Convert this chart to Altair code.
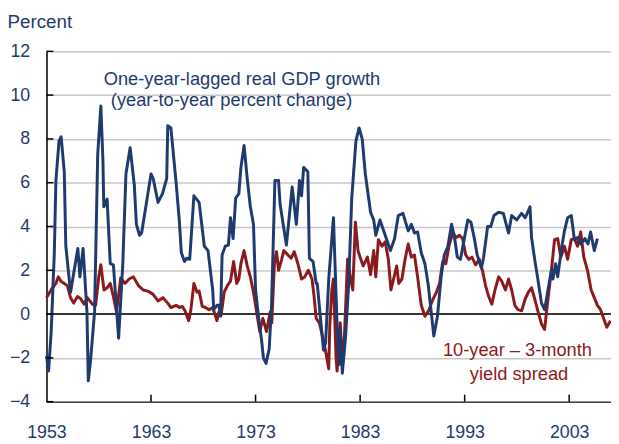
import altair as alt
import pandas as pd

# One-year-lagged real GDP growth (year-to-year percent change)
gdp_year = [1953.0, 1953.2, 1953.45, 1953.75, 1953.9, 1954.2, 1954.4, 1954.7, 1954.85, 1955.3,
            1956.0, 1956.2, 1956.5, 1956.87, 1957.0, 1957.2, 1957.6, 1957.9, 1958.2, 1958.4,
            1958.48, 1958.8, 1959.1, 1959.4, 1959.9, 1960.3, 1960.6, 1961.0, 1961.4, 1961.6,
            1961.9, 1962.1, 1962.6, 1963.0, 1963.2, 1963.67, 1964.1, 1964.5, 1964.6, 1964.9,
            1965.4, 1965.7, 1965.9, 1966.2, 1966.4, 1966.7, 1967.1, 1967.6, 1968.1, 1968.45,
            1968.9, 1969.0, 1969.3, 1969.5, 1969.65, 1969.8, 1970.1, 1970.4, 1970.6, 1970.85,
            1971.1, 1971.4, 1971.6, 1971.9, 1972.2, 1972.5, 1972.8, 1973.0, 1973.3, 1973.6,
            1973.75, 1974.0, 1974.3, 1974.53, 1974.85, 1975.2, 1975.35, 1975.95, 1976.5, 1976.9,
            1977.2, 1977.4, 1977.6, 1978.0, 1978.15, 1978.5, 1978.8, 1978.9, 1979.25, 1979.5,
            1979.7, 1980.0, 1980.45, 1980.8, 1981.0, 1981.1, 1981.3, 1981.6, 1981.9, 1982.2,
            1982.6, 1982.9, 1983.2, 1983.5, 1984.0, 1984.3, 1984.5, 1984.9, 1985.4, 1985.9,
            1986.3, 1986.65, 1987.1, 1987.6, 1987.9, 1988.2, 1988.5, 1988.85, 1989.2, 1989.5,
            1989.8, 1990.05, 1990.4, 1990.75, 1991.05, 1991.4, 1991.75, 1992.0, 1992.3, 1992.6,
            1992.95, 1993.3, 1993.6, 1993.95, 1994.2, 1994.6, 1994.8, 1995.2, 1995.5, 1995.8,
            1996.25, 1996.7, 1997.2, 1997.5, 1997.98, 1998.45, 1998.8, 1999.25, 1999.4, 1999.7,
            2000.0, 2000.35, 2000.65, 2000.97, 2001.3, 2001.45, 2001.7, 2001.9, 2002.3, 2002.55,
            2002.85, 2003.2, 2003.5, 2003.8, 2004.1, 2004.5, 2004.8, 2005.05, 2005.4, 2005.7]
gdp_value = [-1.9, -2.6, -0.8, 2.8, 6.1, 7.9, 8.1, 6.5, 3.1, 1.0,
             3.0, 1.7, 3.0, 0.1, -3.05, -2.2, 0.1, 7.3, 9.5, 7.0,
             4.9, 5.25, 2.3, 2.25, -1.1, 2.3, 6.4, 7.6, 5.9, 4.1,
             3.6, 3.7, 5.2, 6.4, 6.2, 5.1, 5.5, 6.2, 8.6, 8.5,
             6.0, 4.3, 2.8, 2.4, 2.55, 2.5, 5.4, 5.1, 3.1, 2.9,
             1.1, 0.2, 0.4, 0.4, -0.1, 2.7, 3.1, 3.15, 4.4, 3.45,
             5.3, 5.5, 6.7, 7.7, 6.2, 4.9, 4.1, 1.1, -0.2, -1.3,
             -2.0, -2.25, -1.6, 0.4, 6.1, 6.1, 5.0, 3.15, 5.8, 4.1,
             6.1, 5.4, 6.7, 6.5, 2.55, 2.4, 1.4, 1.4, -0.4, -1.65,
             -1.3, 1.6, 4.4, -0.5, -2.3, -0.7, -2.7, -1.1, 1.3, 5.3,
             7.9, 8.5, 8.0, 6.4, 4.65, 4.3, 3.6, 4.3, 3.6, 2.9,
             3.45, 4.5, 4.6, 3.8, 4.1, 3.7, 3.75, 2.8, 2.3, 1.4,
             0.1, -1.0, -0.1, 1.7, 2.7, 3.1, 4.1, 3.6, 2.6, 2.5,
             3.4, 4.3, 4.2, 3.4, 2.7, 2.1, 2.55, 4.0, 4.0, 4.5,
             4.65, 4.6, 3.7, 4.5, 4.3, 4.6, 4.4, 4.9, 3.5, 2.5,
             1.6, 0.5, 0.2, 1.1, 2.0, 1.6, 2.3, 1.7, 3.1, 3.8,
             4.4, 4.5, 3.4, 3.5, 3.2, 3.45, 3.2, 3.75, 2.9, 3.45]

# 10-year minus 3-month yield spread
spread_year = [1953.0, 1953.44, 1953.9, 1954.13, 1954.38, 1954.7, 1955.0, 1955.3, 1955.6, 1955.96,
               1956.27, 1956.6, 1956.9, 1957.4, 1957.7, 1958.0, 1958.2, 1958.5, 1958.8, 1959.1,
               1959.4, 1959.7, 1960.1, 1960.5, 1960.9, 1961.3, 1961.8, 1962.25, 1962.7, 1963.2,
               1963.67, 1964.14, 1964.6, 1964.9, 1965.4, 1965.7, 1966.0, 1966.25, 1966.6, 1966.8,
               1967.1, 1967.4, 1967.6, 1967.9, 1968.2, 1968.55, 1968.9, 1969.3, 1969.5, 1969.7,
               1970.0, 1970.3, 1970.6, 1970.9, 1971.2, 1971.4, 1971.6, 1971.9, 1972.2, 1972.5,
               1972.8, 1973.1, 1973.4, 1973.7, 1974.05, 1974.4, 1974.55, 1974.8, 1975.0, 1975.2,
               1975.5, 1975.7, 1976.1, 1976.4, 1976.7, 1977.05, 1977.4, 1977.7, 1978.05, 1978.4,
               1978.6, 1978.8, 1979.1, 1979.4, 1979.7, 1980.0, 1980.1, 1980.3, 1980.45, 1980.7,
               1980.8, 1981.1, 1981.3, 1981.5, 1981.8, 1982.1, 1982.3, 1982.55, 1982.8, 1983.0,
               1983.3, 1983.7, 1984.0, 1984.3, 1984.5, 1984.75, 1985.1, 1985.4, 1985.7, 1985.95,
               1986.2, 1986.5, 1986.7, 1987.0, 1987.3, 1987.6, 1987.9, 1988.2, 1988.5, 1988.85,
               1989.2, 1989.55, 1989.9, 1990.3, 1990.6, 1990.9, 1991.2, 1991.5, 1991.85, 1992.2,
               1992.5, 1992.8, 1993.1, 1993.4, 1993.7, 1994.05, 1994.4, 1994.7, 1995.0, 1995.3,
               1995.6, 1995.9, 1996.25, 1996.55, 1996.9, 1997.2, 1997.5, 1997.8, 1998.1, 1998.45,
               1998.8, 1999.1, 1999.4, 1999.7, 2000.0, 2000.35, 2000.65, 2000.97, 2001.3, 2001.6,
               2001.9, 2002.2, 2002.55, 2002.85, 2003.2, 2003.5, 2003.8, 2004.1, 2004.4, 2004.75,
               2005.1, 2005.4, 2005.7, 2006.0, 2006.3, 2006.6, 2006.95]
spread_value = [0.75, 1.1, 1.4, 1.7, 1.5, 1.4, 1.3, 0.75, 0.5, 0.8,
                0.7, 0.45, 0.75, 0.45, 0.4, 1.7, 2.25, 1.1, 1.2, 1.4,
                0.8, 0.1, 1.65, 1.4, 1.6, 1.7, 1.3, 1.1, 1.05, 0.9,
                0.6, 0.75, 0.5, 0.3, 0.4, 0.3, 0.35, 0.15, -0.3, 0.15,
                1.4, 1.0, 1.05, 0.35, 0.3, 0.2, 0.3, -0.3, 0.1, -0.05,
                1.0, 1.3, 1.5, 2.4, 1.4, 1.6, 2.3, 2.9, 2.2, 1.7,
                1.0, 0.1, -0.8, -0.2, -0.8, 0.1, -0.4, 2.3, 2.85, 2.0,
                2.5, 2.9, 2.7, 2.55, 2.85, 2.3, 1.6, 1.7, 2.0, 1.6,
                0.8, -0.2, -0.4, -1.0, -1.7, -2.5, -0.5, 1.1, 1.6, -2.0,
                -2.6, -0.4, -2.3, -1.0, 2.5, 1.6, 1.1, 4.2, 2.9, 2.6,
                2.2, 2.6, 1.8, 2.9, 1.7, 3.4, 3.1, 3.3, 2.5, 1.1,
                1.6, 2.2, 1.4, 1.6, 2.5, 3.2, 2.6, 2.7, 1.7, 0.4,
                -0.1, 0.15, 0.6, 1.0, 1.4, 2.4, 2.3, 3.1, 3.7, 3.5,
                3.6, 3.45, 2.7, 2.5, 2.6, 2.25, 2.5, 2.0, 1.3, 0.8,
                0.45, 1.1, 1.7, 1.5, 1.1, 1.6, 1.1, 0.4, 0.2, 0.15,
                0.7, 1.0, 1.2, 0.7, 0.15, -0.45, -0.7, 0.7, 2.0, 3.4,
                3.45, 2.6, 3.1, 2.5, 3.4, 3.45, 3.1, 3.75, 2.6, 2.0,
                1.1, 0.75, 0.4, 0.2, -0.2, -0.6, -0.3]

x_ticks = [1953, 1963, 1973, 1983, 1993, 2003]
y_ticks = [-4, -2, 0, 2, 4, 6, 8, 10, 12]
inner_x_ticks = [1963, 1973, 1983, 1993, 2003]

BLUE = "#1e3a6e"
RED = "#8c1a1c"
FONT = "Liberation Sans"

df = pd.concat([
    pd.DataFrame({"year": spread_year, "value": spread_value, "series": "spread"}),
    pd.DataFrame({"year": gdp_year, "value": gdp_value, "series": "gdp"}),
], ignore_index=True)

xscale = alt.Scale(domain=[1953, 2007], nice=False, zero=False)
yscale = alt.Scale(domain=[-4, 12], nice=False, zero=False)
cscale = alt.Scale(domain=["spread", "gdp"], range=[RED, BLUE])

lines = alt.Chart(df).mark_line(strokeWidth=3, strokeJoin="round").encode(
    x=alt.X("year:Q", scale=xscale,
            axis=alt.Axis(values=x_ticks, format="d", grid=False, tickSize=0,
                          labelPadding=22, labelFontSize=18, labelColor=BLUE,
                          labelFont=FONT, domainColor="#444444", domainWidth=1.5,
                          title=None, labelFlush=False)),
    y=alt.Y("value:Q", scale=yscale,
            axis=alt.Axis(values=y_ticks, grid=True, gridColor="#c8c8c8", gridWidth=1.5,
                          tickSize=0, labelPadding=17, labelFontSize=18,
                          labelColor=BLUE, labelFont=FONT, domainColor="#000000",
                          domainWidth=1.5, title="Percent", titleAngle=0,
                          titleAlign="left", titleBaseline="alphabetic",
                          titleX=-40, titleY=-24, titleFontSize=19,
                          titleFontWeight="normal", titleColor=BLUE, titleFont=FONT)),
    color=alt.Color("series:N", scale=cscale, legend=None),
    order=alt.Order("year:Q"),
    detail="series:N",
)

zero_line = alt.Chart(pd.DataFrame({"z": [0]})).mark_rule(color="#000000", strokeWidth=1.5).encode(
    y=alt.Y("z:Q", scale=yscale)
)

ytick_df = pd.DataFrame({"v": y_ticks, "x0": [1953] * len(y_ticks), "x1": [1953.66] * len(y_ticks)})
y_inner = alt.Chart(ytick_df).mark_rule(color="#000000", strokeWidth=1.5).encode(
    x=alt.X("x0:Q", scale=xscale), x2="x1:Q", y=alt.Y("v:Q", scale=yscale)
)

xtick_df = pd.DataFrame({"t": inner_x_ticks, "y0": [-4] * len(inner_x_ticks),
                         "y1": [-3.68] * len(inner_x_ticks)})
x_inner = alt.Chart(xtick_df).mark_rule(color="#000000", strokeWidth=1.5).encode(
    x=alt.X("t:Q", scale=xscale), y=alt.Y("y0:Q", scale=yscale), y2="y1:Q"
)

ann_df = pd.DataFrame({
    "x": [1971.7, 1970.7, 1998.05, 1998.2],
    "y": [10.45, 9.5, -1.93, -3.02],
    "label": ["One-year-lagged real GDP growth", "(year-to-year percent change)",
              "10-year \u2013 3-month", "yield spread"],
    "series": ["gdp", "gdp", "spread", "spread"],
})
labels = alt.Chart(ann_df).mark_text(fontSize=18.5, font=FONT, align="center",
                                     baseline="alphabetic").encode(
    x=alt.X("x:Q", scale=xscale), y=alt.Y("y:Q", scale=yscale), text="label:N",
    color=alt.Color("series:N", scale=cscale, legend=None),
)

chart = alt.layer(zero_line, lines, y_inner, x_inner, labels).properties(
    width=572, height=355,
    autosize=alt.AutoSizeParams(type="none"),
    padding={"left": 39, "top": 41, "right": 0, "bottom": 40},
).configure_view(stroke=None).configure(background="white")

chart.save("out.html", embed_options={"renderer": "svg", "actions": False})
